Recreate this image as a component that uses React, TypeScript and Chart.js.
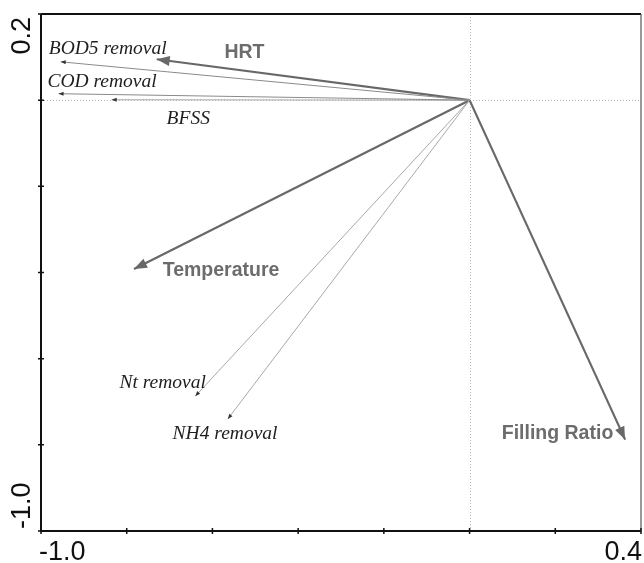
import React, { useEffect, useRef } from "react";
import { Chart, registerables } from "chart.js";

Chart.register(...registerables);

// Explanatory (environmental) variables — thick arrows
const envNames = ["HRT", "Temperature", "Filling Ratio"];
const envX = [-0.73, -0.783, 0.363];
const envY = [0.095, -0.392, -0.788];

// Response variables — thin arrows
const respNames = ["BOD5 removal", "COD removal", "BFSS", "Nt removal", "NH4 removal"];
const respX = [-0.954, -0.959, -0.835, -0.64, -0.564];
const respY = [0.089, 0.015, 0.001, -0.687, -0.74];

// Axis ranges / ticks
const xMin = -1.0;
const xMax = 0.4;
const yMin = -1.0;
const yMax = 0.2;
const tickStep = 0.2;
const xTickLabels = ["-1.0", "0.4"];
const yTickLabels = ["-1.0", "0.2"];

// Label anchors (data units: left edge, vertical centre)
const envLabelPos = [
  [-0.572, 0.115],
  [-0.716, -0.391],
  [0.075, -0.771],
];
const respLabelPos = [
  [-0.982, 0.122],
  [-0.985, 0.045],
  [-0.707, -0.041],
  [-0.817, -0.653],
  [-0.693, -0.771],
];

const THICK = "#686868";
const SERIF = "'Liberation Serif', 'Times New Roman', serif";
const SANS = "'Liberation Sans', Arial, sans-serif";

export default function App() {
  const ref = useRef<HTMLCanvasElement | null>(null);

  useEffect(() => {
    document.body.style.margin = "0";
    const canvas = ref.current;
    if (!canvas) return;

    const datasets: any[] = [];
    respNames.forEach((n, i) => {
      datasets.push({
        label: n,
        data: [
          { x: 0, y: 0 },
          { x: respX[i], y: respY[i] },
        ],
        showLine: true,
        borderColor: i < 2 ? "#8a8a8a" : "#a8a8a8",
        borderWidth: 1,
        pointRadius: 0,
        headLen: 5,
        headW: 2,
        headColor: "#333333",
      });
    });
    envNames.forEach((n, i) => {
      datasets.push({
        label: n,
        data: [
          { x: 0, y: 0 },
          { x: envX[i], y: envY[i] },
        ],
        showLine: true,
        borderColor: THICK,
        borderWidth: 2.2,
        pointRadius: 0,
        headLen: 13,
        headW: 5,
        headColor: THICK,
      });
    });

    const biplot = {
      id: "biplot",
      beforeDatasetsDraw(chart: any) {
        const { ctx, chartArea: a, scales } = chart;
        const x0 = scales.x.getPixelForValue(0);
        const y0 = scales.y.getPixelForValue(0);
        ctx.save();
        ctx.strokeStyle = "#b8b8b8";
        ctx.lineWidth = 1;
        ctx.setLineDash([1, 2]);
        ctx.beginPath();
        ctx.moveTo(Math.round(x0) + 0.5, a.top);
        ctx.lineTo(Math.round(x0) + 0.5, a.bottom);
        ctx.moveTo(a.left, Math.round(y0) + 0.5);
        ctx.lineTo(a.right, Math.round(y0) + 0.5);
        ctx.stroke();
        ctx.restore();
      },
      afterDatasetsDraw(chart: any) {
        const { ctx, chartArea: a, scales } = chart;
        const sx = scales.x;
        const sy = scales.y;
        ctx.save();
        // arrowheads
        chart.data.datasets.forEach((ds: any, i: number) => {
          const meta = chart.getDatasetMeta(i);
          const p0 = meta.data[0];
          const p1 = meta.data[1];
          const ang = Math.atan2(p1.y - p0.y, p1.x - p0.x);
          const c = Math.cos(ang);
          const s = Math.sin(ang);
          const L = ds.headLen;
          const W = ds.headW;
          const bx = p1.x - L * c;
          const by = p1.y - L * s;
          ctx.fillStyle = ds.headColor;
          ctx.beginPath();
          ctx.moveTo(p1.x, p1.y);
          ctx.lineTo(bx - W * s, by + W * c);
          ctx.lineTo(bx + W * s, by - W * c);
          ctx.closePath();
          ctx.fill();
        });

        // labels
        ctx.textBaseline = "alphabetic";
        ctx.textAlign = "left";
        ctx.font = `italic 19.5px ${SERIF}`;
        ctx.fillStyle = "#1e1e1e";
        respNames.forEach((n, i) => {
          const px = sx.getPixelForValue(respLabelPos[i][0]);
          const py = sy.getPixelForValue(respLabelPos[i][1]);
          ctx.fillText(n, px, py + 6.5);
        });
        ctx.font = `bold 19.5px ${SANS}`;
        ctx.fillStyle = "#6c6c6c";
        envNames.forEach((n, i) => {
          const px = sx.getPixelForValue(envLabelPos[i][0]);
          const py = sy.getPixelForValue(envLabelPos[i][1]);
          ctx.fillText(n, px, py + 7);
        });

        // frame
        ctx.strokeStyle = "#111";
        ctx.lineWidth = 2;
        ctx.beginPath();
        ctx.moveTo(a.left, a.top);
        ctx.lineTo(a.left, a.bottom);
        ctx.lineTo(a.right, a.bottom);
        ctx.moveTo(a.left, a.top);
        ctx.lineTo(a.right, a.top);
        ctx.stroke();
        ctx.strokeStyle = "#555";
        ctx.lineWidth = 1.2;
        ctx.beginPath();
        ctx.moveTo(a.right, a.top);
        ctx.lineTo(a.right, a.bottom);
        ctx.stroke();

        // ticks crossing the axes
        ctx.strokeStyle = "#111";
        ctx.lineWidth = 1.5;
        ctx.beginPath();
        const nx = Math.round((xMax - xMin) / tickStep);
        for (let k = 0; k <= nx; k++) {
          const px = sx.getPixelForValue(xMin + k * tickStep);
          ctx.moveTo(px, a.bottom - 3);
          ctx.lineTo(px, a.bottom + 3);
        }
        const ny = Math.round((yMax - yMin) / tickStep);
        for (let k = 0; k <= ny; k++) {
          const py = sy.getPixelForValue(yMin + k * tickStep);
          ctx.moveTo(a.left - 3, py);
          ctx.lineTo(a.left + 3, py);
        }
        ctx.stroke();

        // tick labels (ends only)
        ctx.fillStyle = "#111";
        ctx.font = `27px ${SANS}`;
        ctx.textBaseline = "alphabetic";
        ctx.textAlign = "left";
        ctx.fillText(xTickLabels[0], sx.getPixelForValue(xMin) - 2, a.bottom + 29);
        ctx.textAlign = "right";
        ctx.fillText(xTickLabels[1], sx.getPixelForValue(xMax) + 1, a.bottom + 29);

        ctx.save();
        ctx.translate(30, sy.getPixelForValue(yMin) - 2);
        ctx.rotate(-Math.PI / 2);
        ctx.textAlign = "left";
        ctx.fillText(yTickLabels[0], 0, 0);
        ctx.restore();
        ctx.save();
        ctx.translate(30, sy.getPixelForValue(yMax) + 3);
        ctx.rotate(-Math.PI / 2);
        ctx.textAlign = "right";
        ctx.fillText(yTickLabels[1], 0, 0);
        ctx.restore();

        ctx.restore();
      },
    };

    const chart = new Chart(canvas, {
      type: "scatter",
      data: { datasets },
      options: {
        animation: false,
        responsive: false,
        layout: { padding: { left: 41, top: 14, right: 3, bottom: 32 } },
        plugins: { legend: { display: false }, tooltip: { enabled: false } },
        scales: {
          x: { type: "linear", min: xMin, max: xMax, display: false },
          y: { type: "linear", min: yMin, max: yMax, display: false },
        },
      },
      plugins: [biplot],
    } as any);

    return () => chart.destroy();
  }, []);

  return (
    <div style={{ width: 644, height: 563, overflow: "hidden", background: "#fff" }}>
      <canvas ref={ref} width={644} height={563} style={{ display: "block" }} />
    </div>
  );
}
